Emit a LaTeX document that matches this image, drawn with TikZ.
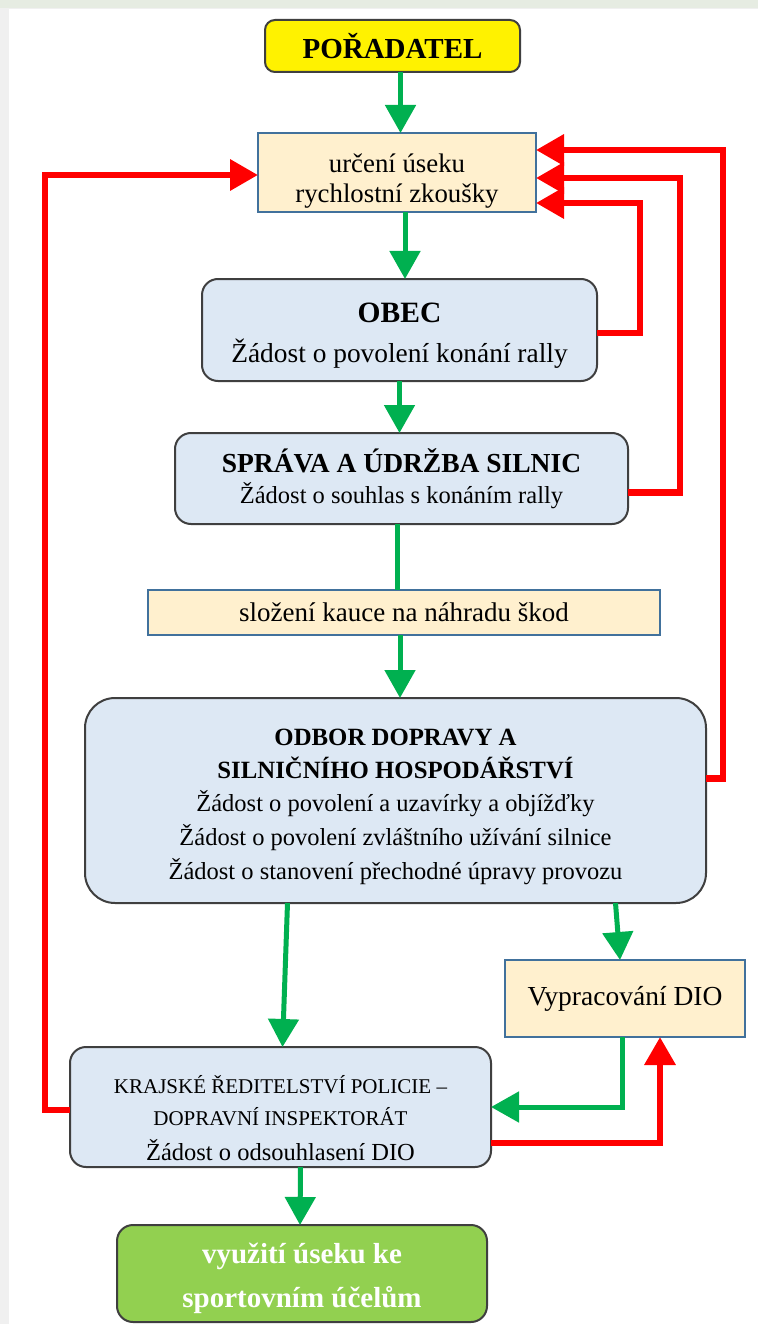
\documentclass[tikz,border=0pt]{standalone}
\usepackage{fontspec}
\setmainfont{Liberation Serif}
\usetikzlibrary{arrows.meta}
\definecolor{gArrow}{HTML}{00B050}
\definecolor{rArrow}{HTML}{FF0000}
\definecolor{peach}{HTML}{FFF0CE}
\definecolor{lblue}{HTML}{DDE8F4}
\definecolor{bordB}{HTML}{41719C}
\definecolor{bordG}{HTML}{3F3F3F}
\definecolor{lgreen}{HTML}{92D050}
\definecolor{topband}{HTML}{E6ECE2}
\definecolor{sideband}{HTML}{F0F0F0}
\newcommand{\fs}[1]{\fontsize{#1}{#1}\selectfont}
\tikzset{
  box/.style={draw, outer sep=0pt, inner sep=2pt, align=center, anchor=north west, line width=2pt},
  rbox/.style={box, draw=bordG, fill=lblue, rounded corners=16pt},
  pbox/.style={box, draw=bordB, fill=peach},
  garrow/.style={draw=gArrow, line width=5pt, -{Triangle[width=30pt,length=28pt]}},
  gline/.style={draw=gArrow, line width=5pt},
  rarrow/.style={draw=rArrow, line width=6.5pt, -{Triangle[width=30pt,length=28pt]}}
}
\begin{document}
\begin{tikzpicture}[x=1pt,y=-1pt]
\useasboundingbox (0,0) rectangle (758,1324);
\fill[sideband] (0,0) rectangle (758,1324);
\fill[white] (9,9) rectangle (758,1324);
\fill[topband] (0,0) rectangle (758,8);

\node[box, draw=bordG, fill=yellow, rounded corners=10pt, minimum width=255pt, minimum height=52pt] (por) at (265,20)
  {\fs{29}\bfseries POŘADATEL};
\node[pbox, minimum width=278pt, minimum height=79pt] (urc) at (258,133)
  {\rule{0pt}{36pt}\fs{26.8}určení úseku\\[10pt]\fs{26.8}rychlostní zkoušky};
\node[rbox, minimum width=395pt, minimum height=102pt] (obec) at (202,279)
  {\rule{0pt}{31pt}\fs{29.5}\bfseries OBEC\\[15pt]\fs{27.4}Žádost o povolení konání rally};
\node[rbox, minimum width=453pt, minimum height=91pt] (spr) at (175,433)
  {\rule{0pt}{24pt}\fs{27.5}\bfseries SPRÁVA A ÚDRŽBA SILNIC\\[9pt]\fs{24.5}Žádost o souhlas s konáním rally};
\node[pbox, line width=1.2pt, minimum width=512pt, minimum height=45pt] (slo) at (148,590)
  {\fs{27}složení kauce na náhradu škod};
\node[rbox, rounded corners=30pt, minimum width=621pt, minimum height=205pt] (odb) at (85,698)
  {\rule{0pt}{30pt}\fs{24.8}\bfseries ODBOR DOPRAVY A\\[10pt]\fs{24.8}\bfseries SILNIČNÍHO HOSPODÁŘSTVÍ\\[10pt]
   \fs{24.5}Žádost o povolení a uzavírky a objížďky\\[7pt]
   \fs{24.5}Žádost o povolení zvláštního užívání silnice\\[7pt]
   \fs{24.5}Žádost o stanovení přechodné úpravy provozu};
\node[pbox, minimum width=240pt, minimum height=77pt] (vyp) at (505,960)
  {\fs{27.5}Vypracování DIO};
\node[rbox, minimum width=421pt, minimum height=120pt] (kr) at (70,1047)
  {\rule{0pt}{40pt}\fs{21}KRAJSKÉ ŘEDITELSTVÍ POLICIE –\\[13pt]\fs{21}DOPRAVNÍ INSPEKTORÁT\\[12pt]\fs{24.5}Žádost o odsouhlasení DIO};
\node[rbox, fill=lgreen, text=white, minimum width=370pt, minimum height=97pt] (vyu) at (117,1225)
  {\rule{0pt}{30pt}\fs{29}\bfseries využití úseku ke\\[15pt]\fs{29}\bfseries sportovním účelům};

\coordinate (c1) at (640,203);
\coordinate (c2) at (680,178);
\coordinate (c3) at (723,150);
\coordinate (c4) at (45,175);

% green flow
\draw[garrow] ([xshift=8pt]por.south) -- ([xshift=8pt]por.south |- urc.north);
\draw[garrow] ([xshift=8pt]urc.south) -- ([xshift=8pt]urc.south |- obec.north);
\draw[garrow] (obec.south) -- (obec.south |- spr.north);
\draw[gline] ([xshift=-4pt]spr.south) -- ([xshift=-4pt]spr.south |- slo.north);
\draw[garrow] ([xshift=-4pt]slo.south) -- ([xshift=-4pt]slo.south |- odb.north);
\draw[garrow] ([xshift=-108pt]odb.south) -- ([xshift=2pt]kr.north);
\draw[garrow] ([xshift=220pt]odb.south) -- ([xshift=-5pt]vyp.north);
\draw[garrow] ([xshift=-3pt]vyp.south) |- (kr.east);
\draw[garrow] ([xshift=20pt]kr.south) -- ([xshift=-2pt]vyu.north);

% red feedback
\draw[rarrow] ([yshift=-3pt]obec.east) -| (c1) -- (c1 -| urc.east);
\draw[rarrow] ([yshift=-14pt]spr.east) -| (c2) -- (c2 -| urc.east);
\draw[rarrow] ([yshift=22pt]odb.east) -| (c3) -- (c3 -| urc.east);
\draw[rarrow] ([yshift=-3pt]kr.west) -| (c4) -- (c4 -| urc.west);
\draw[rarrow] ([yshift=-36pt]kr.east) -| ([xshift=35pt]vyp.south);
\end{tikzpicture}
\end{document}
